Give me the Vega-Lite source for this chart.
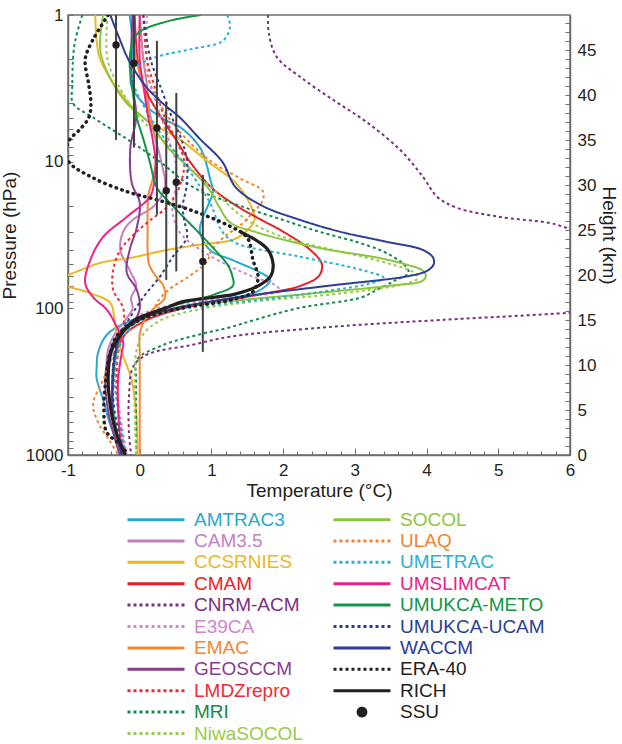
{
"$schema": "https://vega.github.io/schema/vega-lite/v6.json",
"width": 502, "height": 440,
"autosize": {"type": "none"},
"padding": {"left": 68, "top": 15, "right": 52, "bottom": 289},
"background": "white",
"config": {
 "font": "Liberation Sans",
 "view": {"stroke": "#6D6E71", "strokeWidth": 1.5},
 "axis": {"labelFont": "Liberation Sans", "labelFontSize": 17, "labelColor": "#231F20", "titleFont": "Liberation Sans", "titleFontSize": 19, "titleFontWeight": "normal", "titleColor": "#231F20", "domainColor": "#6D6E71", "domainWidth": 1.5, "tickColor": "#6D6E71", "tickWidth": 1, "grid": false, "labelFlush": false, "labelOverlap": false, "labelBound": false}
},
"datasets": {
 "models": [
  {"m":"AMTRAC3","p":1,"t":-0.14},{"m":"AMTRAC3","p":1.5,"t":-0.1},{"m":"AMTRAC3","p":2,"t":-0.1},{"m":"AMTRAC3","p":3,"t":-0.12},{"m":"AMTRAC3","p":4,"t":0.05},{"m":"AMTRAC3","p":5,"t":0.3},{"m":"AMTRAC3","p":6,"t":0.6},{"m":"AMTRAC3","p":8,"t":0.84},{"m":"AMTRAC3","p":10,"t":0.92},{"m":"AMTRAC3","p":13,"t":0.98},{"m":"AMTRAC3","p":16,"t":1.02},{"m":"AMTRAC3","p":20,"t":0.95},{"m":"AMTRAC3","p":24,"t":0.88},{"m":"AMTRAC3","p":30,"t":0.84},{"m":"AMTRAC3","p":40,"t":0.98},{"m":"AMTRAC3","p":47,"t":1.3},{"m":"AMTRAC3","p":57,"t":1.68},{"m":"AMTRAC3","p":64,"t":1.82},{"m":"AMTRAC3","p":75,"t":1.68},{"m":"AMTRAC3","p":85,"t":1.3},{"m":"AMTRAC3","p":95,"t":0.75},{"m":"AMTRAC3","p":105,"t":0.3},{"m":"AMTRAC3","p":120,"t":-0.1},{"m":"AMTRAC3","p":150,"t":-0.45},{"m":"AMTRAC3","p":200,"t":-0.58},{"m":"AMTRAC3","p":250,"t":-0.6},{"m":"AMTRAC3","p":300,"t":-0.6},{"m":"AMTRAC3","p":420,"t":-0.51},{"m":"AMTRAC3","p":600,"t":-0.42},{"m":"AMTRAC3","p":800,"t":-0.32},{"m":"AMTRAC3","p":1000,"t":-0.22},
  {"m":"CAM3.5","p":1,"t":0.0},{"m":"CAM3.5","p":2,"t":0.05},{"m":"CAM3.5","p":3,"t":0.1},{"m":"CAM3.5","p":5,"t":0.15},{"m":"CAM3.5","p":7,"t":0.22},{"m":"CAM3.5","p":10,"t":0.3},{"m":"CAM3.5","p":15,"t":0.35},{"m":"CAM3.5","p":20,"t":0.2},{"m":"CAM3.5","p":25,"t":-0.1},{"m":"CAM3.5","p":30,"t":-0.23},{"m":"CAM3.5","p":40,"t":-0.27},{"m":"CAM3.5","p":55,"t":-0.14},{"m":"CAM3.5","p":70,"t":-0.05},{"m":"CAM3.5","p":85,"t":-0.12},{"m":"CAM3.5","p":100,"t":-0.1},{"m":"CAM3.5","p":120,"t":-0.2},{"m":"CAM3.5","p":150,"t":-0.35},{"m":"CAM3.5","p":200,"t":-0.45},{"m":"CAM3.5","p":300,"t":-0.45},{"m":"CAM3.5","p":500,"t":-0.38},{"m":"CAM3.5","p":700,"t":-0.32},{"m":"CAM3.5","p":1000,"t":-0.25},
  {"m":"CCSRNIES","p":1,"t":-0.62},{"m":"CCSRNIES","p":1.5,"t":-0.6},{"m":"CCSRNIES","p":2,"t":-0.55},{"m":"CCSRNIES","p":3,"t":-0.35},{"m":"CCSRNIES","p":5,"t":0.05},{"m":"CCSRNIES","p":7,"t":0.55},{"m":"CCSRNIES","p":10,"t":0.95},{"m":"CCSRNIES","p":14,"t":1.34},{"m":"CCSRNIES","p":20,"t":1.55},{"m":"CCSRNIES","p":25,"t":1.6},{"m":"CCSRNIES","p":30,"t":1.48},{"m":"CCSRNIES","p":34,"t":1.3},{"m":"CCSRNIES","p":37,"t":0.8},{"m":"CCSRNIES","p":40,"t":0.38},{"m":"CCSRNIES","p":45,"t":-0.1},{"m":"CCSRNIES","p":49,"t":-0.55},{"m":"CCSRNIES","p":59,"t":-1.0},{"m":"CCSRNIES","p":64,"t":-1.3},{"m":"CCSRNIES","p":71,"t":-1.0},{"m":"CCSRNIES","p":80,"t":-0.65},{"m":"CCSRNIES","p":92,"t":-0.41},{"m":"CCSRNIES","p":120,"t":-0.35},{"m":"CCSRNIES","p":157,"t":-0.32},{"m":"CCSRNIES","p":200,"t":-0.25},{"m":"CCSRNIES","p":300,"t":-0.12},{"m":"CCSRNIES","p":500,"t":-0.05},{"m":"CCSRNIES","p":1000,"t":-0.03},
  {"m":"CMAM","p":1,"t":-0.07},{"m":"CMAM","p":2,"t":-0.03},{"m":"CMAM","p":3,"t":0.05},{"m":"CMAM","p":5,"t":0.3},{"m":"CMAM","p":7,"t":0.5},{"m":"CMAM","p":10,"t":0.7},{"m":"CMAM","p":15,"t":1.0},{"m":"CMAM","p":20,"t":1.35},{"m":"CMAM","p":25,"t":1.7},{"m":"CMAM","p":30,"t":2.0},{"m":"CMAM","p":40,"t":2.38},{"m":"CMAM","p":50,"t":2.54},{"m":"CMAM","p":60,"t":2.5},{"m":"CMAM","p":70,"t":2.25},{"m":"CMAM","p":80,"t":1.7},{"m":"CMAM","p":90,"t":1.1},{"m":"CMAM","p":100,"t":0.6},{"m":"CMAM","p":120,"t":0.1},{"m":"CMAM","p":150,"t":-0.2},{"m":"CMAM","p":200,"t":-0.33},{"m":"CMAM","p":300,"t":-0.38},{"m":"CMAM","p":500,"t":-0.38},{"m":"CMAM","p":700,"t":-0.33},{"m":"CMAM","p":1000,"t":-0.25},
  {"m":"CNRM-ACM","p":1,"t":1.79},{"m":"CNRM-ACM","p":1.33,"t":1.8},{"m":"CNRM-ACM","p":1.93,"t":1.91},{"m":"CNRM-ACM","p":2.65,"t":2.24},{"m":"CNRM-ACM","p":3.8,"t":2.7},{"m":"CNRM-ACM","p":5.4,"t":3.17},{"m":"CNRM-ACM","p":8.3,"t":3.63},{"m":"CNRM-ACM","p":12.7,"t":3.95},{"m":"CNRM-ACM","p":17.4,"t":4.15},{"m":"CNRM-ACM","p":20.6,"t":4.42},{"m":"CNRM-ACM","p":23.8,"t":5.02},{"m":"CNRM-ACM","p":26.2,"t":5.72},{"m":"CNRM-ACM","p":28.3,"t":5.97},{"m":"CNRM-ACM","p":32,"t":6.6},{"m":"CNRM-ACM","p":40,"t":7.5},{"m":"CNRM-ACM","p":60,"t":8.0},{"m":"CNRM-ACM","p":85,"t":7.5},{"m":"CNRM-ACM","p":100,"t":6.6},{"m":"CNRM-ACM","p":107,"t":6.0},{"m":"CNRM-ACM","p":120,"t":4.2},{"m":"CNRM-ACM","p":134,"t":2.65},{"m":"CNRM-ACM","p":156,"t":1.26},{"m":"CNRM-ACM","p":177,"t":0.74},{"m":"CNRM-ACM","p":207,"t":0.1},{"m":"CNRM-ACM","p":250,"t":-0.09},{"m":"CNRM-ACM","p":400,"t":-0.15},{"m":"CNRM-ACM","p":700,"t":-0.15},{"m":"CNRM-ACM","p":1000,"t":-0.12},
  {"m":"E39CA","p":1,"t":0.1},{"m":"E39CA","p":2,"t":0.1},{"m":"E39CA","p":3,"t":0.15},{"m":"E39CA","p":5,"t":0.3},{"m":"E39CA","p":7,"t":0.4},{"m":"E39CA","p":10,"t":0.5},{"m":"E39CA","p":15,"t":0.5},{"m":"E39CA","p":20,"t":0.45},{"m":"E39CA","p":30,"t":0.55},{"m":"E39CA","p":40,"t":0.85},{"m":"E39CA","p":50,"t":1.2},{"m":"E39CA","p":60,"t":1.55},{"m":"E39CA","p":70,"t":1.9},{"m":"E39CA","p":76,"t":1.95},{"m":"E39CA","p":82,"t":1.6},{"m":"E39CA","p":90,"t":0.8},{"m":"E39CA","p":100,"t":0.25},{"m":"E39CA","p":120,"t":-0.1},{"m":"E39CA","p":150,"t":-0.25},{"m":"E39CA","p":200,"t":-0.32},{"m":"E39CA","p":300,"t":-0.33},{"m":"E39CA","p":500,"t":-0.28},{"m":"E39CA","p":1000,"t":-0.18},
  {"m":"EMAC","p":1,"t":-0.1},{"m":"EMAC","p":2,"t":-0.05},{"m":"EMAC","p":3,"t":0.05},{"m":"EMAC","p":5,"t":0.15},{"m":"EMAC","p":8,"t":0.24},{"m":"EMAC","p":12,"t":0.2},{"m":"EMAC","p":17,"t":0.12},{"m":"EMAC","p":22,"t":0.11},{"m":"EMAC","p":30,"t":0.11},{"m":"EMAC","p":40,"t":0.11},{"m":"EMAC","p":50,"t":0.13},{"m":"EMAC","p":60,"t":0.22},{"m":"EMAC","p":70,"t":0.33},{"m":"EMAC","p":85,"t":0.35},{"m":"EMAC","p":100,"t":0.2},{"m":"EMAC","p":120,"t":0.07},{"m":"EMAC","p":150,"t":0.0},{"m":"EMAC","p":200,"t":0.0},{"m":"EMAC","p":300,"t":0.0},{"m":"EMAC","p":500,"t":0.0},{"m":"EMAC","p":1000,"t":0.0},
  {"m":"GEOSCCM","p":1,"t":-0.1},{"m":"GEOSCCM","p":2,"t":-0.12},{"m":"GEOSCCM","p":3,"t":-0.1},{"m":"GEOSCCM","p":5,"t":-0.05},{"m":"GEOSCCM","p":8,"t":-0.13},{"m":"GEOSCCM","p":14,"t":-0.11},{"m":"GEOSCCM","p":19,"t":0.0},{"m":"GEOSCCM","p":28,"t":-0.04},{"m":"GEOSCCM","p":40,"t":-0.14},{"m":"GEOSCCM","p":57,"t":-0.18},{"m":"GEOSCCM","p":75,"t":-0.04},{"m":"GEOSCCM","p":100,"t":0.0},{"m":"GEOSCCM","p":125,"t":-0.09},{"m":"GEOSCCM","p":150,"t":-0.3},{"m":"GEOSCCM","p":200,"t":-0.42},{"m":"GEOSCCM","p":300,"t":-0.48},{"m":"GEOSCCM","p":500,"t":-0.44},{"m":"GEOSCCM","p":700,"t":-0.37},{"m":"GEOSCCM","p":1000,"t":-0.28},
  {"m":"LMDZrepro","p":1,"t":0.05},{"m":"LMDZrepro","p":2,"t":0.1},{"m":"LMDZrepro","p":3,"t":0.2},{"m":"LMDZrepro","p":5,"t":0.35},{"m":"LMDZrepro","p":7,"t":0.5},{"m":"LMDZrepro","p":10,"t":0.62},{"m":"LMDZrepro","p":15,"t":0.55},{"m":"LMDZrepro","p":20,"t":0.4},{"m":"LMDZrepro","p":25,"t":0.15},{"m":"LMDZrepro","p":30,"t":-0.04},{"m":"LMDZrepro","p":40,"t":-0.27},{"m":"LMDZrepro","p":55,"t":-0.37},{"m":"LMDZrepro","p":75,"t":-0.37},{"m":"LMDZrepro","p":100,"t":-0.23},{"m":"LMDZrepro","p":140,"t":-0.23},{"m":"LMDZrepro","p":200,"t":-0.3},{"m":"LMDZrepro","p":300,"t":-0.32},{"m":"LMDZrepro","p":500,"t":-0.3},{"m":"LMDZrepro","p":1000,"t":-0.2},
  {"m":"MRI","p":1,"t":-0.8},{"m":"MRI","p":1.5,"t":-0.9},{"m":"MRI","p":2,"t":-0.93},{"m":"MRI","p":3,"t":-0.94},{"m":"MRI","p":4,"t":-0.93},{"m":"MRI","p":5,"t":-0.65},{"m":"MRI","p":7,"t":-0.18},{"m":"MRI","p":10,"t":0.28},{"m":"MRI","p":15,"t":0.75},{"m":"MRI","p":20,"t":1.4},{"m":"MRI","p":25,"t":2.0},{"m":"MRI","p":30,"t":2.5},{"m":"MRI","p":35,"t":3.0},{"m":"MRI","p":40,"t":3.35},{"m":"MRI","p":45,"t":3.55},{"m":"MRI","p":50,"t":3.68},{"m":"MRI","p":57,"t":3.75},{"m":"MRI","p":65,"t":3.55},{"m":"MRI","p":75,"t":3.3},{"m":"MRI","p":84,"t":3.1},{"m":"MRI","p":100,"t":2.2},{"m":"MRI","p":120,"t":1.6},{"m":"MRI","p":135,"t":1.25},{"m":"MRI","p":150,"t":0.85},{"m":"MRI","p":180,"t":0.3},{"m":"MRI","p":225,"t":-0.04},{"m":"MRI","p":300,"t":-0.05},{"m":"MRI","p":1000,"t":-0.05},
  {"m":"NiwaSOCOL","p":1,"t":-0.45},{"m":"NiwaSOCOL","p":2,"t":-0.45},{"m":"NiwaSOCOL","p":3,"t":-0.3},{"m":"NiwaSOCOL","p":5,"t":0.0},{"m":"NiwaSOCOL","p":7,"t":0.3},{"m":"NiwaSOCOL","p":10,"t":0.6},{"m":"NiwaSOCOL","p":15,"t":1.0},{"m":"NiwaSOCOL","p":20,"t":1.25},{"m":"NiwaSOCOL","p":25,"t":1.5},{"m":"NiwaSOCOL","p":30,"t":1.8},{"m":"NiwaSOCOL","p":35,"t":2.2},{"m":"NiwaSOCOL","p":40,"t":2.7},{"m":"NiwaSOCOL","p":45,"t":3.15},{"m":"NiwaSOCOL","p":50,"t":3.5},{"m":"NiwaSOCOL","p":56,"t":3.8},{"m":"NiwaSOCOL","p":62,"t":3.88},{"m":"NiwaSOCOL","p":68,"t":3.7},{"m":"NiwaSOCOL","p":75,"t":3.2},{"m":"NiwaSOCOL","p":82,"t":2.5},{"m":"NiwaSOCOL","p":90,"t":1.6},{"m":"NiwaSOCOL","p":100,"t":0.9},{"m":"NiwaSOCOL","p":120,"t":0.3},{"m":"NiwaSOCOL","p":150,"t":0.05},{"m":"NiwaSOCOL","p":200,"t":-0.05},{"m":"NiwaSOCOL","p":1000,"t":-0.05},
  {"m":"SOCOL","p":1,"t":-0.51},{"m":"SOCOL","p":1.73,"t":-0.55},{"m":"SOCOL","p":2.7,"t":-0.41},{"m":"SOCOL","p":4,"t":-0.18},{"m":"SOCOL","p":5.5,"t":0.14},{"m":"SOCOL","p":8.3,"t":0.42},{"m":"SOCOL","p":10,"t":0.6},{"m":"SOCOL","p":15,"t":0.95},{"m":"SOCOL","p":20,"t":1.1},{"m":"SOCOL","p":26,"t":1.26},{"m":"SOCOL","p":30,"t":1.6},{"m":"SOCOL","p":35,"t":2.1},{"m":"SOCOL","p":40,"t":2.65},{"m":"SOCOL","p":45,"t":3.3},{"m":"SOCOL","p":50,"t":3.7},{"m":"SOCOL","p":55,"t":3.94},{"m":"SOCOL","p":60,"t":3.99},{"m":"SOCOL","p":65,"t":3.94},{"m":"SOCOL","p":70,"t":3.5},{"m":"SOCOL","p":80,"t":2.3},{"m":"SOCOL","p":90,"t":1.2},{"m":"SOCOL","p":100,"t":0.45},{"m":"SOCOL","p":120,"t":-0.02},{"m":"SOCOL","p":150,"t":-0.25},{"m":"SOCOL","p":200,"t":-0.33},{"m":"SOCOL","p":300,"t":-0.37},{"m":"SOCOL","p":500,"t":-0.37},{"m":"SOCOL","p":700,"t":-0.32},{"m":"SOCOL","p":1000,"t":-0.24},
  {"m":"ULAQ","p":1,"t":0.0},{"m":"ULAQ","p":2,"t":0.05},{"m":"ULAQ","p":3,"t":0.15},{"m":"ULAQ","p":5,"t":0.4},{"m":"ULAQ","p":7,"t":0.65},{"m":"ULAQ","p":10,"t":1.0},{"m":"ULAQ","p":13,"t":1.4},{"m":"ULAQ","p":16,"t":1.72},{"m":"ULAQ","p":19,"t":1.7},{"m":"ULAQ","p":22,"t":1.58},{"m":"ULAQ","p":26,"t":1.45},{"m":"ULAQ","p":32,"t":1.2},{"m":"ULAQ","p":40,"t":1.0},{"m":"ULAQ","p":48,"t":0.94},{"m":"ULAQ","p":60,"t":0.7},{"m":"ULAQ","p":75,"t":0.4},{"m":"ULAQ","p":90,"t":0.25},{"m":"ULAQ","p":100,"t":0.2},{"m":"ULAQ","p":120,"t":0.0},{"m":"ULAQ","p":150,"t":-0.2},{"m":"ULAQ","p":200,"t":-0.35},{"m":"ULAQ","p":300,"t":-0.5},{"m":"ULAQ","p":450,"t":-0.65},{"m":"ULAQ","p":600,"t":-0.58},{"m":"ULAQ","p":800,"t":-0.42},{"m":"ULAQ","p":1000,"t":-0.3},
  {"m":"UMETRAC","p":1,"t":1.22},{"m":"UMETRAC","p":1.2,"t":1.26},{"m":"UMETRAC","p":1.5,"t":1.16},{"m":"UMETRAC","p":1.7,"t":0.74},{"m":"UMETRAC","p":1.9,"t":0.28},{"m":"UMETRAC","p":2.1,"t":0.05},{"m":"UMETRAC","p":2.3,"t":-0.09},{"m":"UMETRAC","p":3,"t":-0.08},{"m":"UMETRAC","p":5,"t":0.15},{"m":"UMETRAC","p":7,"t":0.35},{"m":"UMETRAC","p":10,"t":0.6},{"m":"UMETRAC","p":15,"t":0.85},{"m":"UMETRAC","p":20,"t":1.0},{"m":"UMETRAC","p":30,"t":1.15},{"m":"UMETRAC","p":36,"t":1.35},{"m":"UMETRAC","p":44,"t":2.19},{"m":"UMETRAC","p":55,"t":3.11},{"m":"UMETRAC","p":62,"t":3.4},{"m":"UMETRAC","p":68,"t":3.2},{"m":"UMETRAC","p":75,"t":2.7},{"m":"UMETRAC","p":85,"t":1.9},{"m":"UMETRAC","p":95,"t":1.0},{"m":"UMETRAC","p":105,"t":0.4},{"m":"UMETRAC","p":120,"t":0.0},{"m":"UMETRAC","p":150,"t":-0.2},{"m":"UMETRAC","p":200,"t":-0.3},{"m":"UMETRAC","p":300,"t":-0.35},{"m":"UMETRAC","p":500,"t":-0.3},{"m":"UMETRAC","p":1000,"t":-0.2},
  {"m":"UMSLIMCAT","p":1,"t":0.0},{"m":"UMSLIMCAT","p":2,"t":0.0},{"m":"UMSLIMCAT","p":3,"t":0.05},{"m":"UMSLIMCAT","p":5,"t":0.12},{"m":"UMSLIMCAT","p":7,"t":0.18},{"m":"UMSLIMCAT","p":10,"t":0.22},{"m":"UMSLIMCAT","p":14,"t":0.2},{"m":"UMSLIMCAT","p":17.4,"t":0.14},{"m":"UMSLIMCAT","p":23.8,"t":-0.18},{"m":"UMSLIMCAT","p":32.6,"t":-0.51},{"m":"UMSLIMCAT","p":47,"t":-0.69},{"m":"UMSLIMCAT","p":67,"t":-0.76},{"m":"UMSLIMCAT","p":84,"t":-0.65},{"m":"UMSLIMCAT","p":102,"t":-0.46},{"m":"UMSLIMCAT","p":134,"t":-0.32},{"m":"UMSLIMCAT","p":172,"t":-0.23},{"m":"UMSLIMCAT","p":200,"t":-0.25},{"m":"UMSLIMCAT","p":300,"t":-0.3},{"m":"UMSLIMCAT","p":500,"t":-0.3},{"m":"UMSLIMCAT","p":700,"t":-0.28},{"m":"UMSLIMCAT","p":1000,"t":-0.22},
  {"m":"UMUKCA-METO","p":1,"t":0.85},{"m":"UMUKCA-METO","p":1.1,"t":0.4},{"m":"UMUKCA-METO","p":1.3,"t":0.0},{"m":"UMUKCA-METO","p":1.5,"t":-0.09},{"m":"UMUKCA-METO","p":2,"t":-0.14},{"m":"UMUKCA-METO","p":3,"t":-0.11},{"m":"UMUKCA-METO","p":5,"t":-0.04},{"m":"UMUKCA-METO","p":7,"t":0.05},{"m":"UMUKCA-METO","p":10,"t":0.14},{"m":"UMUKCA-METO","p":15,"t":0.24},{"m":"UMUKCA-METO","p":20,"t":0.46},{"m":"UMUKCA-METO","p":30,"t":0.81},{"m":"UMUKCA-METO","p":40,"t":1.05},{"m":"UMUKCA-METO","p":50,"t":1.22},{"m":"UMUKCA-METO","p":60,"t":1.29},{"m":"UMUKCA-METO","p":70,"t":1.3},{"m":"UMUKCA-METO","p":80,"t":1.05},{"m":"UMUKCA-METO","p":100,"t":0.35},{"m":"UMUKCA-METO","p":120,"t":0.0},{"m":"UMUKCA-METO","p":150,"t":-0.25},{"m":"UMUKCA-METO","p":200,"t":-0.33},{"m":"UMUKCA-METO","p":300,"t":-0.38},{"m":"UMUKCA-METO","p":500,"t":-0.37},{"m":"UMUKCA-METO","p":1000,"t":-0.25},
  {"m":"UMUKCA-UCAM","p":1,"t":0.05},{"m":"UMUKCA-UCAM","p":2,"t":0.15},{"m":"UMUKCA-UCAM","p":3,"t":0.28},{"m":"UMUKCA-UCAM","p":5,"t":0.45},{"m":"UMUKCA-UCAM","p":7,"t":0.58},{"m":"UMUKCA-UCAM","p":10,"t":0.66},{"m":"UMUKCA-UCAM","p":15,"t":0.65},{"m":"UMUKCA-UCAM","p":20,"t":0.6},{"m":"UMUKCA-UCAM","p":25,"t":0.62},{"m":"UMUKCA-UCAM","p":32.6,"t":0.66},{"m":"UMUKCA-UCAM","p":44.6,"t":0.46},{"m":"UMUKCA-UCAM","p":61,"t":0.28},{"m":"UMUKCA-UCAM","p":84,"t":0.05},{"m":"UMUKCA-UCAM","p":125,"t":-0.18},{"m":"UMUKCA-UCAM","p":150,"t":-0.28},{"m":"UMUKCA-UCAM","p":200,"t":-0.35},{"m":"UMUKCA-UCAM","p":300,"t":-0.38},{"m":"UMUKCA-UCAM","p":500,"t":-0.35},{"m":"UMUKCA-UCAM","p":1000,"t":-0.22},
  {"m":"WACCM","p":1,"t":-0.41},{"m":"WACCM","p":1.5,"t":-0.27},{"m":"WACCM","p":2,"t":-0.16},{"m":"WACCM","p":3,"t":0.07},{"m":"WACCM","p":4,"t":0.32},{"m":"WACCM","p":5,"t":0.56},{"m":"WACCM","p":7,"t":0.84},{"m":"WACCM","p":10,"t":1.15},{"m":"WACCM","p":15,"t":1.34},{"m":"WACCM","p":20,"t":1.71},{"m":"WACCM","p":25,"t":2.24},{"m":"WACCM","p":30,"t":2.79},{"m":"WACCM","p":35,"t":3.42},{"m":"WACCM","p":40,"t":3.95},{"m":"WACCM","p":45,"t":4.09},{"m":"WACCM","p":50,"t":4.1},{"m":"WACCM","p":55,"t":4.02},{"m":"WACCM","p":60,"t":3.77},{"m":"WACCM","p":70,"t":2.65},{"m":"WACCM","p":80,"t":1.68},{"m":"WACCM","p":90,"t":0.98},{"m":"WACCM","p":100,"t":0.49},{"m":"WACCM","p":120,"t":0.0},{"m":"WACCM","p":150,"t":-0.25},{"m":"WACCM","p":200,"t":-0.34},{"m":"WACCM","p":300,"t":-0.37},{"m":"WACCM","p":500,"t":-0.38},{"m":"WACCM","p":700,"t":-0.33},{"m":"WACCM","p":1000,"t":-0.25},
  {"m":"ERA-40","p":1,"t":-0.44},{"m":"ERA-40","p":1.5,"t":-0.66},{"m":"ERA-40","p":2,"t":-0.76},{"m":"ERA-40","p":3,"t":-0.71},{"m":"ERA-40","p":4,"t":-0.68},{"m":"ERA-40","p":5,"t":-0.71},{"m":"ERA-40","p":6,"t":-0.83},{"m":"ERA-40","p":7,"t":-0.97},{"m":"ERA-40","p":8,"t":-1.02},{"m":"ERA-40","p":10,"t":-0.99},{"m":"ERA-40","p":12.9,"t":-0.65},{"m":"ERA-40","p":16,"t":-0.18},{"m":"ERA-40","p":18.2,"t":0.24},{"m":"ERA-40","p":21.3,"t":0.7},{"m":"ERA-40","p":27,"t":1.22},{"m":"ERA-40","p":33,"t":1.5},{"m":"ERA-40","p":47,"t":1.58},{"m":"ERA-40","p":61,"t":1.65},{"m":"ERA-40","p":77,"t":1.58},{"m":"ERA-40","p":87,"t":1.3},{"m":"ERA-40","p":100,"t":0.56},{"m":"ERA-40","p":120,"t":0.0},{"m":"ERA-40","p":150,"t":-0.3},{"m":"ERA-40","p":200,"t":-0.41},{"m":"ERA-40","p":300,"t":-0.47},{"m":"ERA-40","p":500,"t":-0.5},{"m":"ERA-40","p":700,"t":-0.46},{"m":"ERA-40","p":850,"t":-0.27},{"m":"ERA-40","p":1000,"t":-0.16},
  {"m":"RICH","p":30,"t":1.4},{"m":"RICH","p":35,"t":1.65},{"m":"RICH","p":40,"t":1.79},{"m":"RICH","p":50,"t":1.86},{"m":"RICH","p":60,"t":1.83},{"m":"RICH","p":70,"t":1.66},{"m":"RICH","p":80,"t":1.33},{"m":"RICH","p":90,"t":0.6},{"m":"RICH","p":100,"t":0.35},{"m":"RICH","p":120,"t":-0.07},{"m":"RICH","p":150,"t":-0.26},{"m":"RICH","p":200,"t":-0.4},{"m":"RICH","p":300,"t":-0.44},{"m":"RICH","p":500,"t":-0.4},{"m":"RICH","p":700,"t":-0.33},{"m":"RICH","p":1000,"t":-0.2}
 ],
 "ssu": [
  {"m":"SSU","t":-0.33,"p":1.6,"lo":1,"hi":7.1},
  {"m":"SSU","t":-0.08,"p":2.13,"lo":1,"hi":8},
  {"m":"SSU","t":0.24,"p":5.9,"lo":1.5,"hi":23},
  {"m":"SSU","t":0.37,"p":15.8,"lo":3.9,"hi":64},
  {"m":"SSU","t":0.51,"p":13.8,"lo":3.4,"hi":56},
  {"m":"SSU","t":0.88,"p":48,"lo":12.3,"hi":198}
 ]
},
"layer": [
 {
  "layer": [
   {
    "mark": {"type": "rule", "color": "#A7A9AC", "strokeWidth": 2},
    "encoding": {"x": {"datum": 0, "type": "quantitative", "scale": {"domain": [-1, 6], "nice": false, "zero": false},
      "axis": {"title": "Temperature (°C)", "values": [-1,0,1,2,3,4,5,6], "labelExpr": "'' + datum.value", "tickSize": -7, "labelPadding": 14, "titlePadding": 3}}}
   },
   {
    "data": {"name": "models"},
    "transform": [{"filter": "datum.m !== 'ERA-40' && datum.m !== 'RICH'"}],
    "mark": {"type": "line", "clip": true, "strokeWidth": 2, "interpolate": "catmull-rom"},
    "encoding": {
     "x": {"field": "t", "type": "quantitative"},
     "y": {"field": "p", "type": "quantitative", "scale": {"type": "log", "domain": [1, 1000], "reverse": true, "nice": false},
      "axis": {"title": "Pressure (hPa)", "values": [1,2,3,4,5,6,7,8,9,10,20,30,40,50,60,70,80,90,100,200,300,400,500,600,700,800,900,1000], "labelExpr": "indexof([1,10,100,1000], datum.value) >= 0 ? '' + datum.value : ''", "tickSize": -5, "labelPadding": 10, "titlePadding": 6}},
     "color": {"field": "m", "type": "nominal",
      "scale": {"domain": ["AMTRAC3","CAM3.5","CCSRNIES","CMAM","CNRM-ACM","E39CA","EMAC","GEOSCCM","LMDZrepro","MRI","NiwaSOCOL","SOCOL","ULAQ","UMETRAC","UMSLIMCAT","UMUKCA-METO","UMUKCA-UCAM","WACCM","ERA-40","RICH","SSU"],
       "range": ["#27A9CF","#C47FC1","#EDB722","#ED1C24","#7B2F80","#CF86C8","#F58634","#8A3B90","#EE2A30","#138A4C","#9BCB4A","#8DC540","#F5822F","#27B1D6","#EC2089","#129549","#2B3F93","#2C3E95","#231F20","#231F20","#231F20"]},
      "legend": {"title": null, "orient": "none", "legendX": 58, "legendY": 496, "columns": 2, "symbolType": "stroke", "symbolSize": 3249, "symbolStrokeWidth": 3, "labelFont": "Liberation Sans", "labelFontSize": 19, "labelOffset": 8, "labelLimit": 300, "clipHeight": 17, "rowPadding": 1.4, "columnPadding": 29, "padding": 0,
       "encode": {"labels": {"update": {"fill": {"scale": "color", "field": "value"}}},
        "symbols": {"update": {"shape": {"signal": "datum.value === 'SSU' ? 'circle' : 'stroke'"}, "size": {"signal": "datum.value === 'SSU' ? 60 : 3249"}, "fill": {"signal": "datum.value === 'SSU' ? '#231F20' : 'transparent'"}}}}}},
     "strokeDash": {"field": "m", "type": "nominal",
      "scale": {"domain": ["AMTRAC3","CAM3.5","CCSRNIES","CMAM","CNRM-ACM","E39CA","EMAC","GEOSCCM","LMDZrepro","MRI","NiwaSOCOL","SOCOL","ULAQ","UMETRAC","UMSLIMCAT","UMUKCA-METO","UMUKCA-UCAM","WACCM","ERA-40","RICH","SSU"],
       "range": [[1,0],[1,0],[1,0],[1,0],[3,3],[3,3],[1,0],[1,0],[3,3],[3,3],[3,3],[1,0],[3,3],[3,3],[1,0],[1,0],[3,3],[1,0],[3,3],[1,0],[1,0]]},
      "legend": {"title": null, "orient": "none", "legendX": 58, "legendY": 496, "columns": 2, "symbolType": "stroke", "symbolSize": 3249, "symbolStrokeWidth": 3, "labelFont": "Liberation Sans", "labelFontSize": 19, "labelOffset": 8, "labelLimit": 300, "clipHeight": 17, "rowPadding": 1.4, "columnPadding": 29, "padding": 0}},
     "order": {"field": "p", "type": "quantitative"}
    }
   },
   {
    "data": {"name": "models"},
    "transform": [{"filter": "datum.m === 'ERA-40'"}],
    "mark": {"type": "line", "clip": true, "strokeWidth": 3.5, "strokeDash": [0.5, 5.5], "strokeCap": "round", "interpolate": "catmull-rom"},
    "encoding": {
     "x": {"field": "t", "type": "quantitative"},
     "y": {"field": "p", "type": "quantitative"},
     "color": {"field": "m", "type": "nominal"},
     "order": {"field": "p", "type": "quantitative"}
    }
   },
   {
    "data": {"name": "models"},
    "transform": [{"filter": "datum.m === 'RICH'"}],
    "mark": {"type": "line", "clip": true, "strokeWidth": 3.2, "interpolate": "catmull-rom"},
    "encoding": {
     "x": {"field": "t", "type": "quantitative"},
     "y": {"field": "p", "type": "quantitative"},
     "color": {"field": "m", "type": "nominal"},
     "order": {"field": "p", "type": "quantitative"}
    }
   },
   {
    "data": {"name": "ssu"},
    "mark": {"type": "rule", "color": "#414042", "strokeWidth": 2},
    "encoding": {
     "x": {"field": "t", "type": "quantitative"},
     "y": {"field": "lo", "type": "quantitative"},
     "y2": {"field": "hi"}
    }
   },
   {
    "data": {"name": "ssu"},
    "mark": {"type": "point", "filled": true, "size": 55, "opacity": 1},
    "encoding": {
     "x": {"field": "t", "type": "quantitative"},
     "y": {"field": "p", "type": "quantitative"},
     "color": {"field": "m", "type": "nominal"}
    }
   }
  ]
 },
 {
  "data": {"values": [{"h": 0}]},
  "mark": {"type": "point", "opacity": 0},
  "encoding": {
   "x": {"datum": 0, "type": "quantitative", "scale": {"domain": [-1, 6], "nice": false, "zero": false},
    "axis": {"orient": "bottom", "title": null, "values": [-0.8,-0.6,-0.4,-0.2,0.2,0.4,0.6,0.8,1.2,1.4,1.6,1.8,2.2,2.4,2.6,2.8,3.2,3.4,3.6,3.8,4.2,4.4,4.6,4.8,5.2,5.4,5.6,5.8], "labels": false, "domain": false, "tickSize": -4}},
   "y": {"field": "h", "type": "quantitative", "scale": {"domain": [0, 48.9], "nice": false, "zero": false},
    "axis": {"orient": "right", "title": "Height (km)", "values": [0,1,2,3,4,5,6,7,8,9,10,11,12,13,14,15,16,17,18,19,20,21,22,23,24,25,26,27,28,29,30,31,32,33,34,35,36,37,38,39,40,41,42,43,44,45,46,47,48], "labelExpr": "datum.value % 5 === 0 ? '' + datum.value : ''", "tickSize": -5, "labelPadding": 12, "titlePadding": 3}}
  }
 }
],
"resolve": {"scale": {"y": "independent", "x": "independent"}, "axis": {"y": "independent", "x": "independent"}}
}
